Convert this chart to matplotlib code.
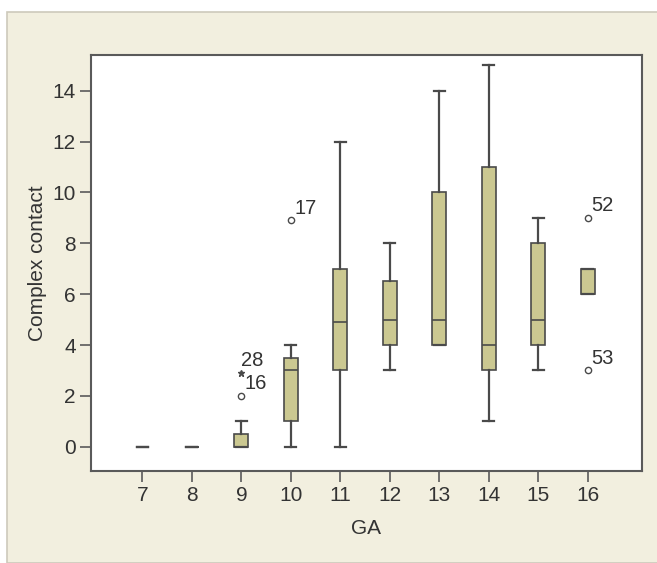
import matplotlib
matplotlib.use("Agg")
import matplotlib.pyplot as plt
from matplotlib.patches import Rectangle

plt.rcParams['font.family'] = ['Liberation Sans', 'DejaVu Sans']

# GA groups and box statistics
ga = [7, 8, 9, 10, 11, 12, 13, 14, 15, 16]
q1 = [0, 0, 0, 1, 3, 4, 4, 3, 4, 6]
med = [0, 0, 0, 3, 4.9, 5, 5, 4, 5, 6]
q3 = [0, 0, 0.5, 3.5, 7, 6.5, 10, 11, 8, 7]
whislo = [0, 0, 0, 0, 0, 3, 4, 1, 3, 6]
whishi = [0, 0, 1, 4, 12, 8, 14, 15, 9, 7]

# outliers: (group, value, case label, marker)
out_ga = [9, 9, 10, 16, 16]
out_val = [2.0, 2.9, 8.9, 9.0, 3.0]
out_lab = ['16', '28', '17', '52', '53']
out_mark = ['o', '*', 'o', 'o', 'o']

edge = '#4a4a4a'
fill = '#cbc891'
txt = '#333333'

fig = plt.figure(figsize=(6.57, 5.63), dpi=100)
fig.patch.set_facecolor('white')
fig.patches.append(Rectangle((7 / 657, 0), 1, 1 - 12 / 563, transform=fig.transFigure,
                             facecolor='#f2efdf', edgecolor='#cdc9bb', linewidth=1.2,
                             zorder=-10))

ax = fig.add_axes([91 / 657, 1 - 471 / 563, (642 - 91) / 657, (471 - 55) / 563])
ax.set_facecolor('white')

stats = []
for i in range(len(ga)):
    stats.append(dict(med=med[i], q1=q1[i], q3=q3[i], whislo=whislo[i],
                      whishi=whishi[i], fliers=[]))

ax.bxp(stats, positions=ga, widths=0.28, capwidths=0.22, patch_artist=True,
       showfliers=False,
       boxprops=dict(facecolor=fill, edgecolor=edge, linewidth=1.2),
       medianprops=dict(color=edge, linewidth=1.2),
       whiskerprops=dict(color=edge, linewidth=1.6),
       capprops=dict(color=edge, linewidth=1.6))

for x, y, lab, m in zip(out_ga, out_val, out_lab, out_mark):
    if m == 'o':
        ax.plot(x, y, marker='o', ms=4.5, mfc='white', mec=edge, mew=1.0, ls='none')
        ax.annotate(lab, (x, y), xytext=(2.5, 2), textcoords='offset points',
                    fontsize=14.5, color=txt, ha='left', va='bottom')
    else:
        ax.plot(x, y, marker='*', ms=5, color=edge, ls='none')
        ax.annotate(lab, (x, y), xytext=(0, 2.5), textcoords='offset points',
                    fontsize=14.5, color=txt, ha='left', va='bottom')

ax.set_xlim(5.96, 17.1)
ax.set_ylim(-0.95, 15.4)
ax.set_xticks(ga)
ax.set_xticklabels([str(g) for g in ga])
ax.set_yticks(range(0, 15, 2))

for s in ax.spines.values():
    s.set_color('#5a5a5a')
    s.set_linewidth(1.5)
ax.tick_params(direction='out', length=8, width=1.2, color='#5a5a5a',
               labelsize=15, labelcolor=txt, pad=3)

ax.set_xlabel('GA', fontsize=15, color=txt, labelpad=10)
ax.set_ylabel('Complex contact', fontsize=15, color=txt, labelpad=4)

fig.savefig('out.png', dpi=100)
